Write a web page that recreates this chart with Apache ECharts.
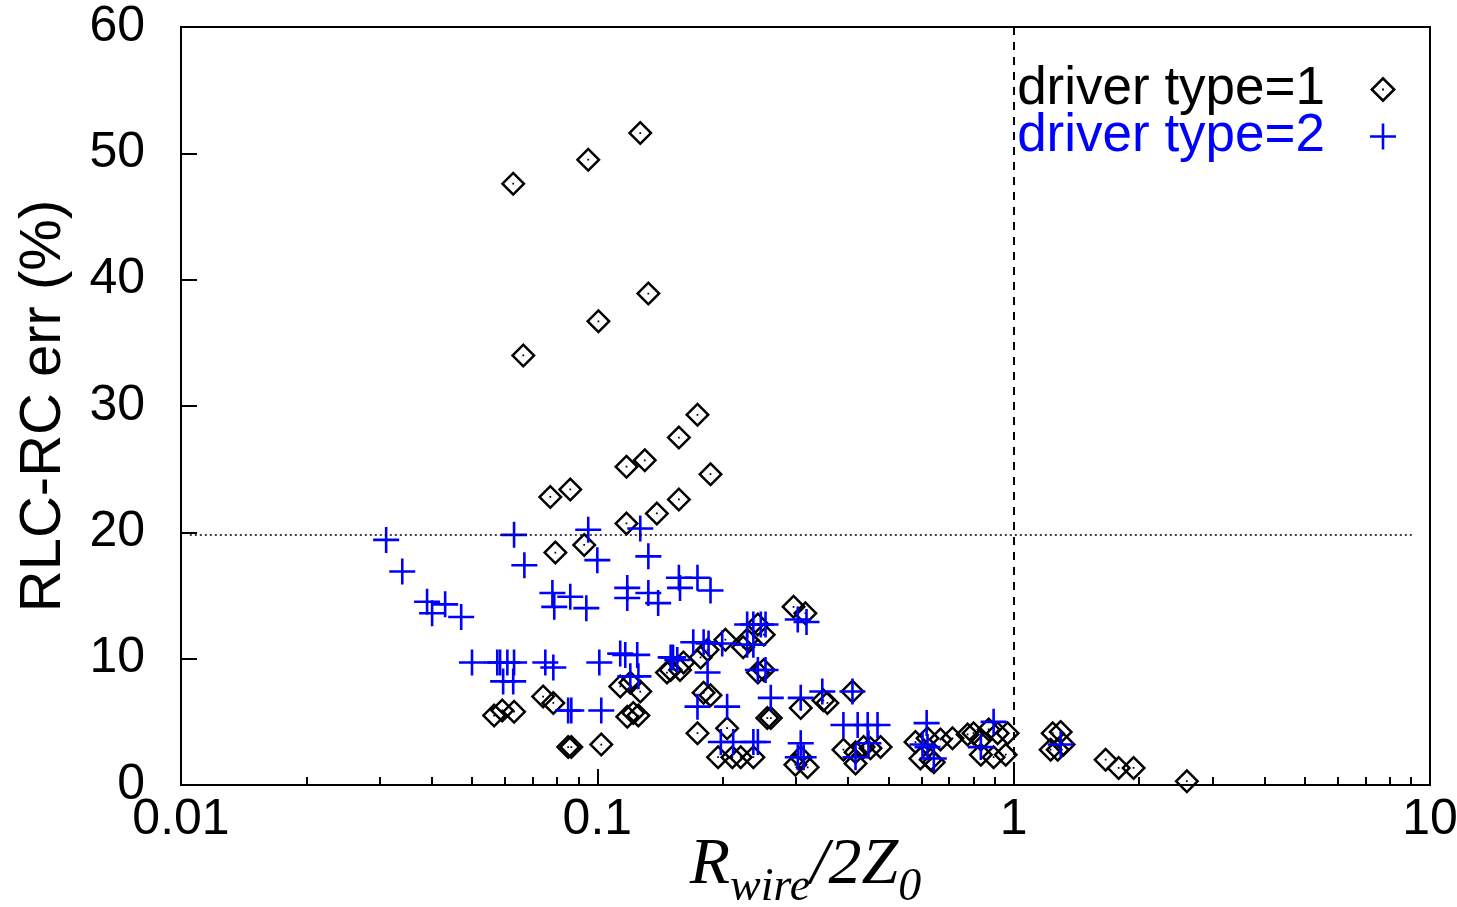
<!DOCTYPE html>
<html>
<head>
<meta charset="utf-8">
<script src="https://cdn.jsdelivr.net/npm/echarts@6/dist/echarts.min.js"></script>
<style>
  html, body { margin: 0; padding: 0; background: #fff; }
  #chart { width: 1457px; height: 907px; }
</style>
</head>
<body>
<div id="chart"></div>
<script>
// values: [Rwire/2Z0, err %]
const type1Points = [
  [0.0628, 47.6], [0.0951, 49.5], [0.1268, 51.6], [0.1006, 36.7], [0.1326, 38.9],
  [0.0664, 34.0], [0.174, 29.3], [0.157, 27.5], [0.130, 25.7], [0.1175, 25.2],
  [0.187, 24.6], [0.0861, 23.4], [0.0771, 22.8], [0.157, 22.6], [0.139, 21.5],
  [0.1175, 20.7], [0.093, 19.0], [0.0793, 18.4], [0.296, 14.1], [0.316, 13.6],
  [0.0565, 5.5], [0.0591, 5.9], [0.0631, 5.8], [0.0741, 7.0], [0.0784, 6.5],
  [0.0851, 3.0], [0.0866, 3.0], [0.1022, 3.2], [0.1135, 7.8], [0.120, 8.1],
  [0.1268, 7.4], [0.122, 5.7], [0.118, 5.4], [0.1255, 5.5], [0.184, 10.7],
  [0.177, 10.1], [0.161, 9.7], [0.158, 9.1], [0.150, 9.1], [0.147, 8.9],
  [0.203, 11.5], [0.243, 12.7], [0.251, 11.9], [0.229, 11.5], [0.224, 10.9],
  [0.243, 8.9], [0.251, 9.1], [0.180, 7.3], [0.187, 7.1], [0.261, 5.3],
  [0.256, 5.3], [0.308, 6.1], [0.349, 6.7], [0.357, 6.5], [0.410, 7.4],
  [0.174, 4.1], [0.205, 4.5], [0.195, 2.2], [0.211, 2.2], [0.221, 2.2],
  [0.237, 2.2], [0.299, 1.6], [0.320, 1.4], [0.308, 2.2], [0.390, 2.8],
  [0.417, 2.6], [0.436, 3.0], [0.453, 2.9], [0.479, 3.0], [0.417, 1.7],
  [0.581, 3.4], [0.621, 3.7], [0.597, 2.1], [0.643, 1.8], [0.713, 3.7],
  [0.801, 4.1], [0.834, 3.6], [0.871, 4.4], [0.915, 4.1], [0.967, 4.1],
  [0.834, 2.4], [0.895, 2.2], [0.957, 2.4], [1.241, 4.1], [1.297, 4.2],
  [1.227, 2.8], [1.276, 2.8], [1.318, 3.2], [1.663, 2.0], [1.787, 1.35],
  [1.941, 1.35], [2.606, 0.3], [0.667, 3.6], [0.775, 4.0], [0.632, 2.0]
];

const type2Points = [
  [0.0311, 19.4], [0.0340, 16.9], [0.0390, 14.5], [0.0401, 13.6], [0.0431, 14.3],
  [0.0471, 13.3], [0.0500, 9.7], [0.0575, 9.7], [0.0584, 9.7], [0.0608, 9.7],
  [0.0631, 9.7], [0.0594, 8.2], [0.0628, 8.2], [0.0631, 19.8], [0.0668, 17.4],
  [0.078, 15.2], [0.0861, 14.9], [0.0788, 14.1], [0.0941, 14.0], [0.075, 9.7],
  [0.0784, 9.3], [0.0851, 5.9], [0.0866, 5.9], [0.1011, 9.7], [0.1022, 5.9],
  [0.0951, 20.2], [0.100, 17.8], [0.1268, 20.3], [0.1326, 18.1], [0.118, 15.6],
  [0.118, 14.8], [0.1326, 15.2], [0.140, 14.4], [0.157, 16.4], [0.158, 15.6],
  [0.174, 16.4], [0.187, 15.4], [0.1135, 10.4], [0.1167, 10.3], [0.1247, 10.3],
  [0.120, 8.6], [0.1255, 8.6], [0.150, 10.1], [0.152, 10.1], [0.1556, 9.9],
  [0.170, 11.3], [0.180, 11.3], [0.185, 11.2], [0.1995, 11.2], [0.184, 8.9],
  [0.174, 6.2], [0.205, 6.2], [0.229, 12.7], [0.237, 12.7], [0.247, 12.7],
  [0.2535, 12.7], [0.229, 11.1], [0.237, 11.1], [0.243, 9.1], [0.2535, 9.1],
  [0.261, 6.9], [0.308, 6.9], [0.347, 7.4], [0.410, 7.4], [0.303, 13.1],
  [0.318, 12.9], [0.198, 3.4], [0.212, 3.4], [0.237, 3.4], [0.243, 3.4],
  [0.308, 3.3], [0.303, 2.2], [0.313, 2.2], [0.390, 4.75], [0.422, 4.75],
  [0.446, 4.75], [0.471, 4.75], [0.417, 2.2], [0.448, 3.3], [0.618, 4.9],
  [0.604, 3.2], [0.621, 3.0], [0.643, 2.1], [0.895, 5.0], [0.834, 3.0],
  [1.297, 3.2]
];

const seriesNames = ['driver type=1', 'driver type=2'];
const xTickLabels = ['0.01', '0.1', '1', '10'];
const yTicks = [0, 10, 20, 30, 40, 50, 60];
const refX = 1;        // dashed vertical line
const refY = 19.8;     // dotted horizontal line
const refYSpan = [0.0105, 9.1];

// minor ticks of the log axis: 2..9 in every decade
const minorTicks = [];
[0.01, 0.1, 1].forEach(d => {
  for (let k = 2; k <= 9; k++) minorTicks.push(+(d * k).toPrecision(3));
});

// diamond outline with a dot at its centre (filled ring, nonzero rule)
const diamondPath = 'path://M0,-10L10,0L0,10L-10,0ZM0,-7.2L-7.2,0L0,7.2L7.2,0ZM-0.7,-0.7L0.7,-0.7L0.7,0.7L-0.7,0.7Z';
const crossPath = 'path://M-10,-1L10,-1L10,1L-10,1ZM-1,-10L1,-10L1,10L-1,10Z';

const font = 'Liberation Sans';

const chart = echarts.init(document.getElementById('chart'), null, { renderer: 'canvas' });

const option = {
  backgroundColor: '#fff',
  animation: false,
  grid: {
    left: 181, right: 27, top: 27, bottom: 122,
    containLabel: false,
    outerBoundsMode: 'none',
    show: true, borderColor: '#000', borderWidth: 2, backgroundColor: 'transparent'
  },
  legend: {
    orient: 'vertical',
    align: 'right',
    right: 56,
    top: 58,
    itemWidth: 106,
    itemHeight: 26,
    itemGap: -6,
    selectedMode: false,
    textStyle: { fontFamily: font, fontSize: 53, lineHeight: 47 },
    data: [
      { name: seriesNames[0], textStyle: { color: '#000' } },
      { name: seriesNames[1], textStyle: { color: '#0000ff' } }
    ]
  },
  xAxis: [
    {
      type: 'log', logBase: 10, min: 0.01, max: 10,
      axisLine: { show: false },
      axisTick: { show: true, inside: true, length: 16, lineStyle: { color: '#000', width: 2 } },
      splitLine: { show: false },
      axisLabel: {
        color: '#000', fontFamily: font, fontSize: 50, margin: 10,
        formatter: v => {
          const i = Math.round(Math.log10(v)) + 2;
          return xTickLabels[i] || '';
        }
      },
      name: '{i|R}{s|wire}{i|/2Z}{s|0}',
      nameLocation: 'middle',
      nameGap: 48,
      nameMoveOverlap: false,
      nameTextStyle: {
        verticalAlign: 'top',
        rich: {
          i: { fontFamily: 'Liberation Serif', fontStyle: 'italic', fontSize: 66, color: '#000', verticalAlign: 'top', lineHeight: 66 },
          s: { fontFamily: 'Liberation Serif', fontStyle: 'italic', fontSize: 46, color: '#000', verticalAlign: 'top', lineHeight: 46, padding: [32, 0, 0, 0] }
        }
      }
    },
    {
      type: 'log', logBase: 10, min: 0.01, max: 10, position: 'bottom',
      axisLine: { show: false },
      axisLabel: { show: false },
      splitLine: { show: false },
      axisTick: { show: true, inside: true, length: 8, customValues: minorTicks, lineStyle: { color: '#000', width: 2 } }
    }
  ],
  yAxis: {
    type: 'value', min: yTicks[0], max: yTicks[yTicks.length - 1], interval: 10,
    axisLine: { show: false },
    axisTick: { show: true, inside: true, length: 16, lineStyle: { color: '#000', width: 2 } },
    splitLine: { show: false },
    axisLabel: { color: '#000', fontFamily: font, fontSize: 50, margin: 36 },
    name: 'RLC-RC err (%)',
    nameLocation: 'middle',
    nameRotate: 90,
    nameGap: 108,
    nameMoveOverlap: false,
    nameTextStyle: { color: '#000', fontFamily: font, fontSize: 58 }
  },
  series: [
    {
      name: seriesNames[0],
      type: 'scatter',
      data: type1Points,
      symbol: diamondPath,
      symbolSize: 25,
      itemStyle: { color: '#000', opacity: 1 },
      z: 2,
      markLine: {
        silent: true,
        symbol: ['none', 'none'],
        label: { show: false },
        data: [
          { xAxis: refX, lineStyle: { color: '#000', type: [8, 7], width: 2 } },
          [
            { coord: [refYSpan[0], refY], lineStyle: { color: '#000', type: [2, 3], width: 1.5 } },
            { coord: [refYSpan[1], refY] }
          ]
        ]
      }
    },
    {
      name: seriesNames[1],
      type: 'scatter',
      data: type2Points,
      symbol: crossPath,
      symbolSize: 26,
      itemStyle: { color: '#0000ff', opacity: 1 },
      z: 3
    }
  ]
};

chart.setOption(option);
window.addEventListener('resize', () => chart.resize());
</script>
</body>
</html>
